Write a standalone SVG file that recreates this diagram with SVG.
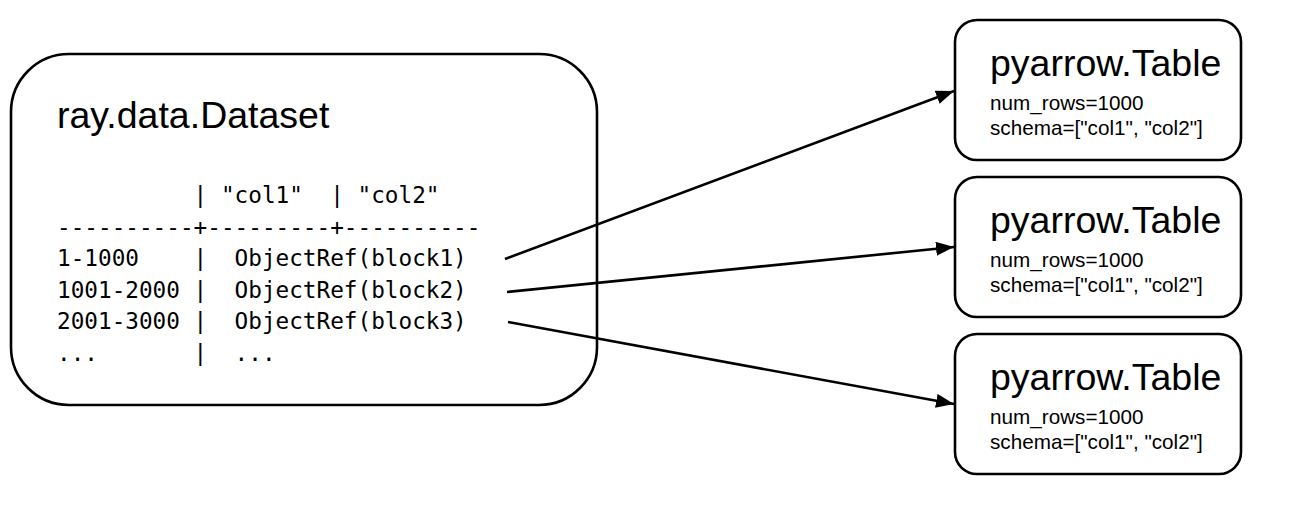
<svg xmlns="http://www.w3.org/2000/svg" width="1293" height="515" viewBox="0 0 1293 515">
  <style>
    .box { fill: #ffffff; stroke: #000000; stroke-width: 2.6; }
    .title { font-family: "Liberation Sans", Arial, sans-serif; font-size: 37.5px; fill: #000000; }
    .small { font-family: "Liberation Sans", Arial, sans-serif; font-size: 20.7px; fill: #000000; }
    .mono { font-family: "DejaVu Sans Mono", "Liberation Mono", monospace; font-size: 22.7px; fill: #000000; white-space: pre; }
    .edge { fill: none; stroke: #000000; stroke-width: 2.6; }
  </style>
  <defs>
    <marker id="arrow" markerUnits="userSpaceOnUse" markerWidth="20" markerHeight="14" refX="18" refY="7" orient="auto">
      <path d="M0,0 L18,7 L0,14 z" fill="#000000"/>
    </marker>
  </defs>
  <rect width="1293" height="515" fill="#ffffff"/>

  <g id="dataset">
    <rect class="box" x="11" y="54" width="586" height="351" rx="58" ry="58"/>
    <text class="title" x="57" y="128">ray.data.Dataset</text>
    <text class="mono" xml:space="preserve" x="57" y="203">          | "col1"  | "col2"</text>
    <text class="mono" xml:space="preserve" x="57" y="234.6">----------+---------+----------</text>
    <text class="mono" xml:space="preserve" x="57" y="266.2">1-1000    |  ObjectRef(block1)</text>
    <text class="mono" xml:space="preserve" x="57" y="297.8">1001-2000 |  ObjectRef(block2)</text>
    <text class="mono" xml:space="preserve" x="57" y="329.4">2001-3000 |  ObjectRef(block3)</text>
    <text class="mono" xml:space="preserve" x="57" y="361">...       |  ...</text>
  </g>

  <g id="table1">
    <rect class="box" x="955" y="20" width="286" height="140" rx="22" ry="22"/>
    <text class="title" x="990" y="76">pyarrow.Table</text>
    <text class="small" x="990" y="110">num_rows=1000</text>
    <text class="small" x="990" y="135">schema=["col1", "col2"]</text>
  </g>

  <g id="table2">
    <rect class="box" x="955" y="177" width="286" height="140" rx="22" ry="22"/>
    <text class="title" x="990" y="233">pyarrow.Table</text>
    <text class="small" x="990" y="267">num_rows=1000</text>
    <text class="small" x="990" y="292">schema=["col1", "col2"]</text>
  </g>

  <g id="table3">
    <rect class="box" x="955" y="334" width="286" height="140" rx="22" ry="22"/>
    <text class="title" x="990" y="390">pyarrow.Table</text>
    <text class="small" x="990" y="424">num_rows=1000</text>
    <text class="small" x="990" y="449">schema=["col1", "col2"]</text>
  </g>

  <g id="connectors">
    <line class="edge" x1="505" y1="259" x2="954" y2="91" marker-end="url(#arrow)"/>
    <line class="edge" x1="507" y1="292" x2="954" y2="247" marker-end="url(#arrow)"/>
    <line class="edge" x1="508" y1="322" x2="954" y2="404" marker-end="url(#arrow)"/>
  </g>
</svg>
